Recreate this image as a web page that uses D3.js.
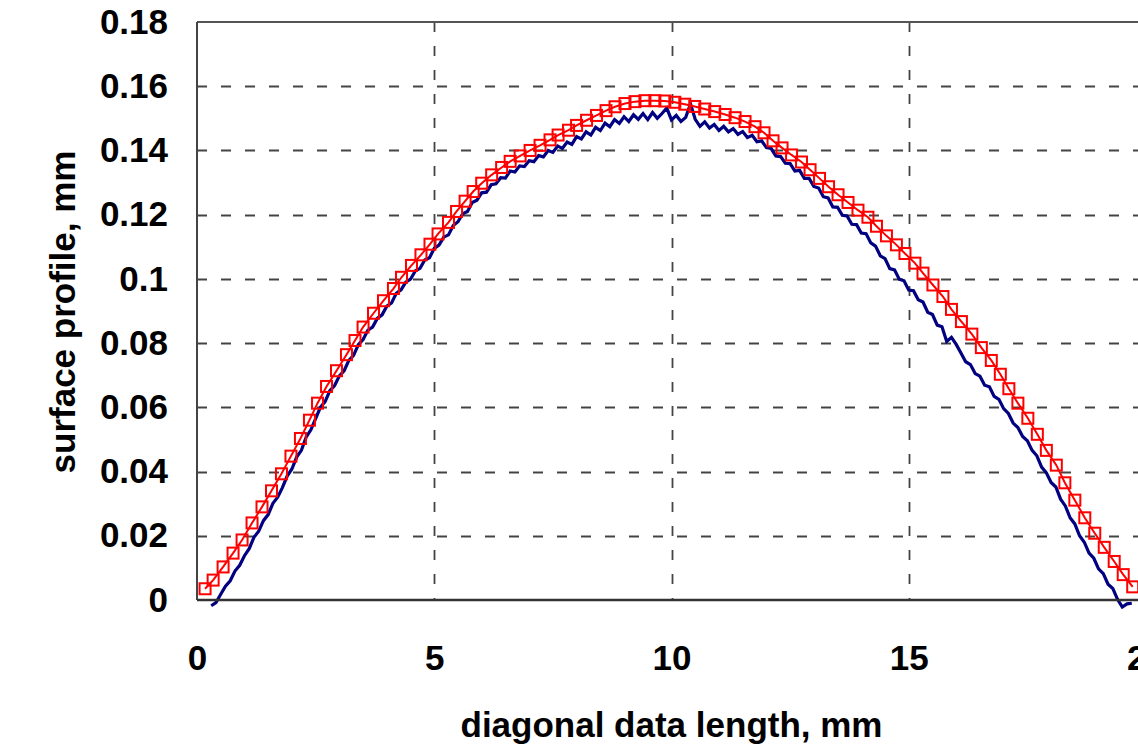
<!DOCTYPE html>
<html>
<head>
<meta charset="utf-8">
<script src="https://cdn.jsdelivr.net/npm/d3@7/dist/d3.min.js"></script>
<style>
  body { margin: 0; background: #fff; overflow: hidden; }
  svg text { font-family: "Liberation Sans", Arial, sans-serif; font-weight: bold; fill: #000; }
</style>
</head>
<body>
<div id="chart"></div>
<script>
/*
** Data
*/
var xTicks = [0, 5, 10, 15, 20];
var xTickLabels = ["0", "5", "10", "15", "20"];
var yTicks = [0, 0.02, 0.04, 0.06, 0.08, 0.1, 0.12, 0.14, 0.16, 0.18];
var yTickLabels = ["0", "0.02", "0.04", "0.06", "0.08", "0.1", "0.12", "0.14", "0.16", "0.18"];
var xTitle = "diagonal data length, mm";
var yTitle = "surface profile, mm";

// fitted profile (red, square markers)
var redPoints = [
  [0.17, 0.0035], [0.34, 0.0062], [0.55, 0.0103], [0.76, 0.0146], [0.95, 0.0187],
  [1.16, 0.0240], [1.37, 0.0290], [1.57, 0.0340], [1.78, 0.0393], [1.98, 0.0448],
  [2.18, 0.0503], [2.37, 0.0560], [2.54, 0.0613], [2.73, 0.0665], [2.94, 0.0714],
  [3.15, 0.0764], [3.33, 0.0808], [3.50, 0.0850], [3.72, 0.0893], [3.93, 0.0932],
  [4.14, 0.0970], [4.31, 0.1005], [4.52, 0.1042], [4.72, 0.1075], [4.91, 0.1108],
  [5.08, 0.1140], [5.30, 0.1176], [5.47, 0.1210], [5.65, 0.1242], [5.82, 0.1272],
  [6.00, 0.1298], [6.21, 0.1324], [6.42, 0.1347], [6.60, 0.1366], [6.81, 0.1383],
  [7.02, 0.1400], [7.23, 0.1416], [7.44, 0.1433], [7.61, 0.1448], [7.83, 0.1463],
  [8.00, 0.1478], [8.21, 0.1494], [8.42, 0.1509], [8.62, 0.1524], [8.81, 0.1536],
  [9.02, 0.1546], [9.23, 0.1552], [9.44, 0.1555], [9.65, 0.1555], [9.86, 0.1554],
  [10.07, 0.1550], [10.28, 0.1544], [10.49, 0.1537], [10.70, 0.1529], [10.91, 0.1521],
  [11.13, 0.1512], [11.34, 0.1502], [11.55, 0.1490], [11.76, 0.1474], [11.95, 0.1455],
  [12.14, 0.1430], [12.33, 0.1408], [12.53, 0.1386], [12.74, 0.1364], [12.92, 0.1340],
  [13.12, 0.1313], [13.31, 0.1287], [13.51, 0.1262], [13.72, 0.1238], [13.93, 0.1214],
  [14.14, 0.1192], [14.32, 0.1164], [14.53, 0.1134], [14.74, 0.1106], [14.92, 0.1079],
  [15.13, 0.1049], [15.30, 0.1018], [15.51, 0.0981], [15.72, 0.0945], [15.90, 0.0905],
  [16.11, 0.0867], [16.33, 0.0828], [16.53, 0.0786], [16.74, 0.0746], [16.93, 0.0703],
  [17.11, 0.0658], [17.30, 0.0613], [17.51, 0.0566], [17.71, 0.0516], [17.90, 0.0466],
  [18.11, 0.0420], [18.29, 0.0365], [18.50, 0.0311], [18.71, 0.0256], [18.92, 0.0208],
  [19.12, 0.0164], [19.33, 0.0120], [19.52, 0.0079], [19.72, 0.0041]
];

// measured profile (blue)
var bluePoints = [
  [0.3, -0.0018], [0.4, -0.0008], [0.5, 0.0018], [0.6, 0.0043], [0.7, 0.0060],
  [0.8, 0.0090], [0.9, 0.0108], [1.0, 0.0138], [1.1, 0.0160], [1.2, 0.0195],
  [1.3, 0.0214], [1.4, 0.0247], [1.5, 0.0266], [1.6, 0.0301], [1.7, 0.0320],
  [1.8, 0.0350], [1.9, 0.0386], [2.0, 0.0408], [2.1, 0.0445], [2.2, 0.0466],
  [2.3, 0.0507], [2.4, 0.0530], [2.5, 0.0565], [2.6, 0.0600], [2.7, 0.0618],
  [2.8, 0.0652], [2.9, 0.0668], [3.0, 0.0698], [3.1, 0.0714], [3.2, 0.0746],
  [3.3, 0.0762], [3.4, 0.0795], [3.5, 0.0811], [3.6, 0.0840], [3.7, 0.0850],
  [3.8, 0.0877], [3.9, 0.0888], [4.0, 0.0915], [4.1, 0.0925], [4.2, 0.0955],
  [4.3, 0.0966], [4.4, 0.0990], [4.5, 0.0999], [4.6, 0.1025], [4.7, 0.1033],
  [4.8, 0.1059], [4.9, 0.1066], [5.0, 0.1095], [5.1, 0.1105], [5.2, 0.1130],
  [5.3, 0.1137], [5.4, 0.1166], [5.5, 0.1178], [5.6, 0.1203], [5.7, 0.1210],
  [5.8, 0.1238], [5.9, 0.1245], [6.0, 0.1268], [6.1, 0.1270], [6.2, 0.1293],
  [6.3, 0.1296], [6.4, 0.1315], [6.5, 0.1314], [6.6, 0.1336], [6.7, 0.1333],
  [6.8, 0.1352], [6.9, 0.1350], [7.0, 0.1368], [7.1, 0.1365], [7.2, 0.1384],
  [7.3, 0.1380], [7.4, 0.1400], [7.5, 0.1394], [7.6, 0.1414], [7.7, 0.1406],
  [7.8, 0.1426], [7.9, 0.1419], [8.0, 0.1443], [8.1, 0.1436], [8.2, 0.1458],
  [8.3, 0.1448], [8.4, 0.1472], [8.5, 0.1462], [8.6, 0.1485], [8.7, 0.1474],
  [8.8, 0.1496], [8.9, 0.1484], [9.0, 0.1505], [9.1, 0.1490], [9.2, 0.1511],
  [9.3, 0.1497], [9.4, 0.1515], [9.5, 0.1496], [9.6, 0.1518], [9.7, 0.1500],
  [9.8, 0.1515], [9.9, 0.1532], [10.0, 0.1495], [10.1, 0.1509], [10.2, 0.1490],
  [10.3, 0.1503], [10.4, 0.1545], [10.5, 0.1497], [10.6, 0.1475], [10.7, 0.1489],
  [10.8, 0.1470], [10.9, 0.1481], [11.0, 0.1462], [11.1, 0.1475], [11.2, 0.1458],
  [11.3, 0.1468], [11.4, 0.1450], [11.5, 0.1459], [11.6, 0.1440], [11.7, 0.1447],
  [11.8, 0.1427], [11.9, 0.1430], [12.0, 0.1409], [12.1, 0.1406], [12.2, 0.1383],
  [12.3, 0.1381], [12.4, 0.1360], [12.5, 0.1359], [12.6, 0.1336], [12.7, 0.1338],
  [12.8, 0.1313], [12.9, 0.1313], [13.0, 0.1288], [13.1, 0.1283], [13.2, 0.1256],
  [13.3, 0.1252], [13.4, 0.1224], [13.5, 0.1223], [13.6, 0.1198], [13.7, 0.1196],
  [13.8, 0.1170], [13.9, 0.1169], [14.0, 0.1143], [14.1, 0.1141], [14.2, 0.1112],
  [14.3, 0.1102], [14.4, 0.1072], [14.5, 0.1063], [14.6, 0.1032], [14.7, 0.1028],
  [14.8, 0.0999], [14.9, 0.0994], [15.0, 0.0965], [15.1, 0.0963], [15.2, 0.0935],
  [15.3, 0.0928], [15.4, 0.0896], [15.5, 0.0889], [15.6, 0.0856], [15.7, 0.0851],
  [15.8, 0.0805], [15.9, 0.0818], [16.0, 0.0796], [16.1, 0.0769], [16.2, 0.0742],
  [16.3, 0.0733], [16.4, 0.0705], [16.5, 0.0697], [16.6, 0.0669], [16.7, 0.0664],
  [16.8, 0.0634], [16.9, 0.0625], [17.0, 0.0596], [17.1, 0.0581], [17.2, 0.0551],
  [17.3, 0.0537], [17.4, 0.0509], [17.5, 0.0496], [17.6, 0.0466], [17.7, 0.0449],
  [17.8, 0.0414], [17.9, 0.0396], [18.0, 0.0366], [18.1, 0.0352], [18.2, 0.0314],
  [18.3, 0.0293], [18.4, 0.0256], [18.5, 0.0237], [18.6, 0.0200], [18.7, 0.0180],
  [18.8, 0.0146], [18.9, 0.0130], [19.0, 0.0097], [19.1, 0.0082], [19.2, 0.0049],
  [19.3, 0.0036], [19.4, 0.0002], [19.5, -0.0022], [19.6, -0.0012], [19.7, -0.0010]
];

/*
** Chart
*/
function ProfileChart(){
    var width = 1138
      , height = 750
      , margin = { top: 22, left: 197 }
      , plotW = 949
      , plotH = 578
      , fontSize = 35
      , markerSize = 11
    ;

    function my(div) {
        var svg = div.append("svg")
            .attr("width", width)
            .attr("height", height)
        ;
        var g = svg.append("g")
            .attr("transform", "translate(" + margin.left + "," + margin.top + ")")
        ;

        var x = d3.scaleLinear().domain([0, 20]).range([0, plotW]);
        var y = d3.scaleLinear().domain([0, 0.18]).range([plotH, 0]);

        // dashed grid
        var grid = g.append("g").attr("class", "grid");
        grid.selectAll("line.h")
            .data(yTicks.filter(function(d) { return d > 0 && d < 0.18; }))
          .enter().append("line")
            .attr("class", "h")
            .attr("x1", 0)
            .attr("x2", plotW)
            .attr("y1", function(d) { return Math.round(y(d)) + 0.5; })
            .attr("y2", function(d) { return Math.round(y(d)) + 0.5; })
        ;
        grid.selectAll("line.v")
            .data(xTicks.filter(function(d) { return d > 0 && d < 20; }))
          .enter().append("line")
            .attr("class", "v")
            .attr("y1", 0)
            .attr("y2", plotH)
            .attr("x1", function(d) { return Math.round(x(d)) + 0.5; })
            .attr("x2", function(d) { return Math.round(x(d)) + 0.5; })
        ;
        grid.selectAll("line")
            .attr("stroke", "#444")
            .attr("stroke-width", 1.8)
            .attr("stroke-dasharray", "10,14")
        ;

        // frame
        g.append("line")
            .attr("x1", 0).attr("x2", plotW)
            .attr("y1", 0).attr("y2", 0)
            .attr("stroke", "#555").attr("stroke-width", 2)
        ;
        g.append("line")
            .attr("x1", plotW).attr("x2", plotW)
            .attr("y1", 0).attr("y2", plotH)
            .attr("stroke", "#555").attr("stroke-width", 2)
        ;
        g.append("line")
            .attr("x1", 0).attr("x2", 0)
            .attr("y1", 0).attr("y2", plotH)
            .attr("stroke", "#444").attr("stroke-width", 2)
        ;

        // measured (blue)
        var line = d3.line()
            .x(function(d) { return x(d[0]); })
            .y(function(d) { return y(d[1]); })
        ;
        g.append("path")
            .datum(bluePoints)
            .attr("fill", "none")
            .attr("stroke", "#000080")
            .attr("stroke-width", 3.2)
            .attr("stroke-linejoin", "miter")
            .attr("d", line)
        ;

        // bottom axis line over the data
        g.append("line")
            .attr("x1", 0).attr("x2", plotW)
            .attr("y1", plotH).attr("y2", plotH)
            .attr("stroke", "#333").attr("stroke-width", 2.5)
        ;

        // fitted (red) with square markers
        g.append("path")
            .datum(redPoints)
            .attr("fill", "none")
            .attr("stroke", "#ff0000")
            .attr("stroke-width", 2)
            .attr("d", line)
        ;
        g.selectAll("rect.mk")
            .data(redPoints)
          .enter().append("rect")
            .attr("class", "mk")
            .attr("x", function(d) { return x(d[0]) - markerSize / 2; })
            .attr("y", function(d) { return y(d[1]) - markerSize / 2; })
            .attr("width", markerSize)
            .attr("height", markerSize)
            .attr("fill", "none")
            .attr("stroke", "#ff0000")
            .attr("stroke-width", 2)
        ;

        // axes (labels only)
        var yAxis = d3.axisLeft(y)
            .tickValues(yTicks)
            .tickFormat(function(d, i) { return yTickLabels[i]; })
            .tickSize(0)
            .tickPadding(29)
        ;
        var xAxis = d3.axisBottom(x)
            .tickValues(xTicks)
            .tickFormat(function(d, i) { return xTickLabels[i]; })
            .tickSize(0)
            .tickPadding(45)
        ;
        var ya = g.append("g").call(yAxis);
        var xa = g.append("g")
            .attr("transform", "translate(0," + plotH + ")")
            .call(xAxis)
        ;
        [ya, xa].forEach(function(a) {
            a.select(".domain").remove();
            a.selectAll("text")
                .attr("font-family", null)
                .attr("font-size", fontSize)
                .attr("fill", "#000")
            ;
        });

        // titles
        svg.append("text")
            .attr("x", margin.left + x(10))
            .attr("y", 737)
            .attr("text-anchor", "middle")
            .attr("font-size", fontSize)
            .text(xTitle)
        ;
        svg.append("text")
            .attr("transform", "translate(75," + 312 + ") rotate(-90)")
            .attr("text-anchor", "middle")
            .attr("font-size", fontSize)
            .text(yTitle)
        ;
    } // my()

    return my;
}

d3.select("#chart").call(ProfileChart());
</script>
</body>
</html>
